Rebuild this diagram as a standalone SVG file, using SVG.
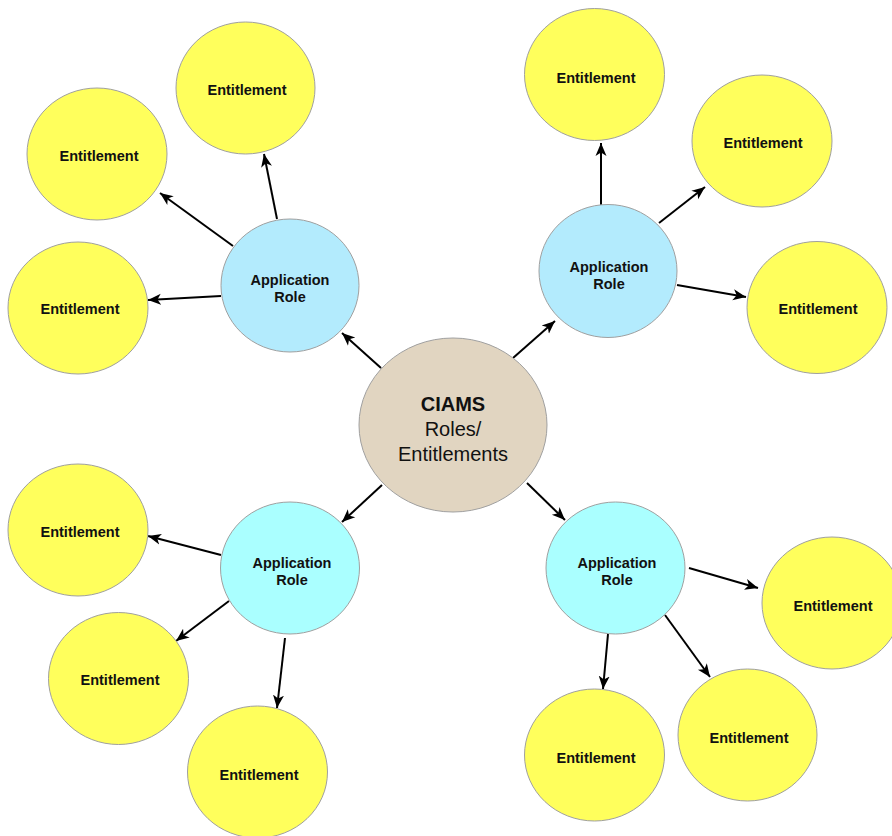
<svg xmlns="http://www.w3.org/2000/svg" width="892" height="836" viewBox="0 0 892 836">
<defs>
<marker id="ah" markerWidth="14" markerHeight="14" viewBox="0 0 14 14" refX="13" refY="7" orient="auto" markerUnits="userSpaceOnUse">
<path d="M0,1.5 L13,7 L0,12.5 L3.5,7 z" fill="#000"/>
</marker>
<style>
.ent{fill:#ffff5c;stroke:#a0a0a0;stroke-width:1}
.appA{fill:#b3ebfd;stroke:#a0a0a0;stroke-width:1}
.appB{fill:#aaffff;stroke:#a0a0a0;stroke-width:1}
.core{fill:#e1d5c1;stroke:#a0a0a0;stroke-width:1}
.t{font-family:"Liberation Sans",Arial,Helvetica,sans-serif;font-weight:bold;font-size:14.5px;fill:#111;text-anchor:middle}
.c{font-family:"Liberation Sans",Arial,Helvetica,sans-serif;font-size:20px;fill:#111;text-anchor:middle}
.edge line{stroke:#000;stroke-width:2;marker-end:url(#ah)}
</style>
</defs>
<rect width="892" height="836" fill="#fff"/>

<g id="edges" class="edge">
<line x1="381" y1="368" x2="342" y2="333"/>
<line x1="513" y1="358" x2="555" y2="321"/>
<line x1="382" y1="485" x2="342" y2="522"/>
<line x1="527" y1="483" x2="565" y2="520"/>
<line x1="277" y1="219" x2="264" y2="154"/>
<line x1="233" y1="246" x2="160" y2="193"/>
<line x1="221" y1="296" x2="148" y2="300"/>
<line x1="601" y1="205" x2="601" y2="143"/>
<line x1="659" y1="223" x2="705" y2="187"/>
<line x1="677" y1="285" x2="746" y2="297"/>
<line x1="221" y1="555" x2="148" y2="536"/>
<line x1="229" y1="601" x2="176" y2="641"/>
<line x1="285" y1="638" x2="277" y2="708"/>
<line x1="689" y1="568" x2="758" y2="588"/>
<line x1="665" y1="615" x2="710" y2="677"/>
<line x1="608" y1="634" x2="603" y2="689"/>
</g>

<g id="core">
<ellipse class="core" cx="453" cy="425" rx="94" ry="87"/>
<text class="c" x="453" y="411" font-weight="bold">CIAMS</text>
<text class="c" x="453" y="436">Roles/</text>
<text class="c" x="453" y="461">Entitlements</text>
</g>

<g id="role-tl">
<ellipse class="appA" cx="290" cy="285.5" rx="69" ry="66.5"/>
<text class="t" x="290" y="285">Application</text>
<text class="t" x="290" y="302">Role</text>
</g>
<g id="role-tr">
<ellipse class="appA" cx="608" cy="271" rx="69" ry="66.5"/>
<text class="t" x="609" y="272">Application</text>
<text class="t" x="609" y="289">Role</text>
</g>
<g id="role-bl">
<ellipse class="appB" cx="290" cy="568" rx="69.5" ry="66"/>
<text class="t" x="292" y="568">Application</text>
<text class="t" x="292" y="585">Role</text>
</g>
<g id="role-br">
<ellipse class="appB" cx="615.5" cy="568" rx="69.5" ry="66"/>
<text class="t" x="617" y="568">Application</text>
<text class="t" x="617" y="585">Role</text>
</g>

<g id="ent-tl1"><ellipse class="ent" cx="245.5" cy="88" rx="69.5" ry="66"/><text class="t" x="247" y="95">Entitlement</text></g>
<g id="ent-tl2"><ellipse class="ent" cx="97" cy="154" rx="70" ry="66"/><text class="t" x="99" y="161">Entitlement</text></g>
<g id="ent-tl3"><ellipse class="ent" cx="78" cy="308" rx="70" ry="66"/><text class="t" x="80" y="314">Entitlement</text></g>

<g id="ent-tr1"><ellipse class="ent" cx="594.5" cy="74.5" rx="70" ry="66"/><text class="t" x="596" y="83">Entitlement</text></g>
<g id="ent-tr2"><ellipse class="ent" cx="762" cy="141" rx="70" ry="66"/><text class="t" x="763" y="148">Entitlement</text></g>
<g id="ent-tr3"><ellipse class="ent" cx="817" cy="307.5" rx="70" ry="66"/><text class="t" x="818" y="314">Entitlement</text></g>

<g id="ent-bl1"><ellipse class="ent" cx="78" cy="530" rx="70" ry="66"/><text class="t" x="80" y="537">Entitlement</text></g>
<g id="ent-bl2"><ellipse class="ent" cx="118.5" cy="678.5" rx="70" ry="66"/><text class="t" x="120" y="685">Entitlement</text></g>
<g id="ent-bl3"><ellipse class="ent" cx="257.5" cy="772" rx="70" ry="66"/><text class="t" x="259" y="780">Entitlement</text></g>

<g id="ent-br1"><ellipse class="ent" cx="832" cy="603" rx="70" ry="66"/><text class="t" x="833" y="611">Entitlement</text></g>
<g id="ent-br2"><ellipse class="ent" cx="747.5" cy="735" rx="69.5" ry="66"/><text class="t" x="749" y="743">Entitlement</text></g>
<g id="ent-br3"><ellipse class="ent" cx="594.5" cy="755" rx="70" ry="66"/><text class="t" x="596" y="763">Entitlement</text></g>
</svg>
